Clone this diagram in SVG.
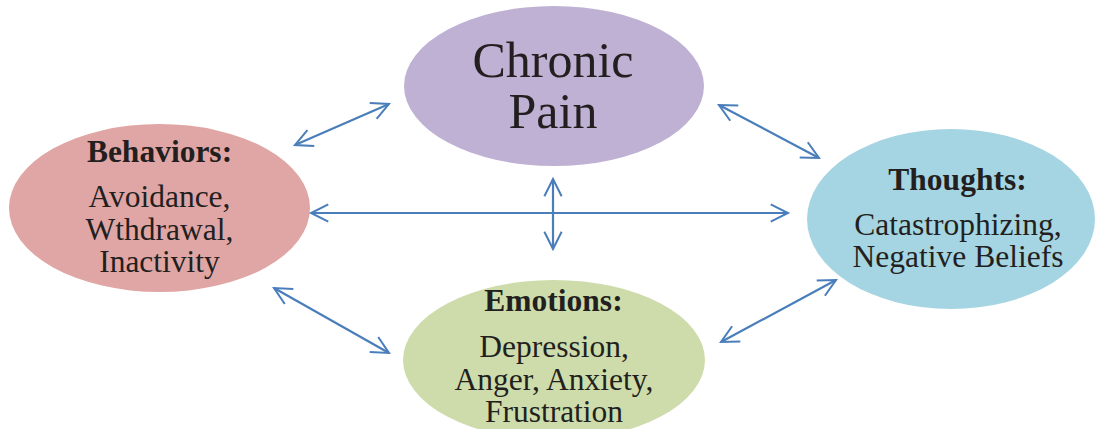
<svg xmlns="http://www.w3.org/2000/svg" width="1096" height="429" viewBox="0 0 1096 429">
<style>
.t{font-family:"Liberation Serif","Times New Roman",serif;fill:#231f20;text-anchor:middle}
.h{font-weight:bold;font-size:31.5px}
.b{font-size:31.5px}
.c{font-size:50px}
.con line{stroke:#4a7ebb;stroke-width:2.2;fill:none;marker-start:url(#ah);marker-end:url(#ah)}
</style>
<defs>
<marker id="ah" markerUnits="userSpaceOnUse" markerWidth="40" markerHeight="40" refX="0" refY="0" viewBox="-22 -20 44 40" orient="auto-start-reverse" overflow="visible">
<path d="M-19,-9.5 L0,0 L-19,9.5" fill="none" stroke="#4a7ebb" stroke-width="2.2" stroke-linejoin="miter"/>
</marker>
</defs>
<rect width="1096" height="429" fill="#ffffff"/>
<g id="chronic-pain">
<ellipse cx="554" cy="86" rx="150" ry="80" fill="#bfb1d3"/>
<text class="t c" x="553" y="77">Chronic</text>
<text class="t c" x="553" y="128">Pain</text>
</g>
<g id="behaviors">
<ellipse cx="159.5" cy="208" rx="150.5" ry="84" fill="#e0a6a5"/>
<text class="t h" x="159.5" y="162">Behaviors:</text>
<text class="t b" x="159.5" y="207">Avoidance,</text>
<text class="t b" x="159.5" y="240">Wthdrawal,</text>
<text class="t b" x="159.5" y="272">Inactivity</text>
</g>
<g id="thoughts">
<ellipse cx="951" cy="219" rx="144" ry="90" fill="#a5d5e2"/>
<text class="t h" x="957.5" y="190">Thoughts:</text>
<text class="t b" x="958" y="235">Catastrophizing,</text>
<text class="t b" x="958" y="267">Negative Beliefs</text>
</g>
<g id="emotions">
<ellipse cx="554" cy="360" rx="151" ry="80" fill="#cddcaa"/>
<text class="t h" x="553.5" y="311">Emotions:</text>
<text class="t b" x="554" y="357">Depression,</text>
<text class="t b" x="554" y="390">Anger, Anxiety,</text>
<text class="t b" x="554" y="422">Frustration</text>
</g>
<g id="connectors" class="con">
<line x1="295" y1="145" x2="389" y2="104"/>
<line x1="719" y1="105" x2="819" y2="158"/>
<line x1="553" y1="179" x2="553" y2="249"/>
<line x1="311" y1="213" x2="788" y2="213"/>
<line x1="274" y1="288" x2="389" y2="353"/>
<line x1="836" y1="280" x2="721" y2="342"/>
</g>
</svg>
